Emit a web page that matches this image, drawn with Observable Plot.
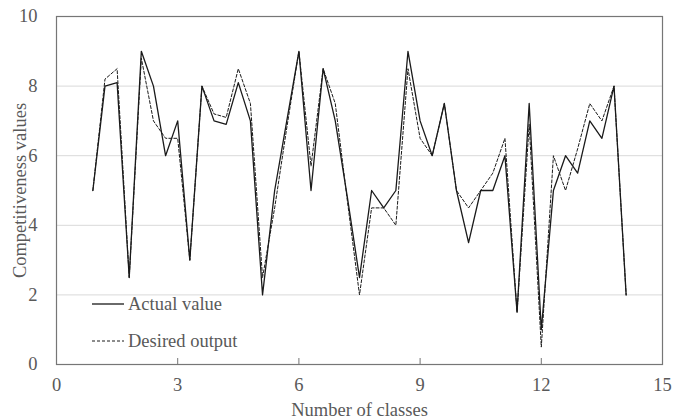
<!DOCTYPE html>
<html>
<head>
<meta charset="utf-8">
<script src="https://cdn.jsdelivr.net/npm/d3@7"></script>
<script src="https://cdn.jsdelivr.net/npm/@observablehq/plot@0.6"></script>
<style>
  html, body { margin: 0; padding: 0; background: #fff; }
  #chart svg { display: block; }
</style>
</head>
<body>
<div id="chart"></div>
<script>
// Number of classes (x) for each observation
const classes = [
  0.9, 1.2, 1.5, 1.8, 2.1, 2.4, 2.7, 3.0, 3.3, 3.6,
  3.9, 4.2, 4.5, 4.8, 5.1, 5.4, 5.7, 6.0, 6.3, 6.6,
  6.9, 7.2, 7.5, 7.8, 8.1, 8.4, 8.7, 9.0, 9.3, 9.6,
  9.9, 10.2, 10.5, 10.8, 11.1, 11.4, 11.7, 12.0, 12.3, 12.6,
  12.9, 13.2, 13.5, 13.8, 14.1
];

// Competitiveness values: actual
const actualValue = [
  5.0, 8.0, 8.1, 2.5, 9.0, 8.0, 6.0, 7.0, 3.0, 8.0,
  7.0, 6.9, 8.1, 7.0, 2.0, 5.0, 7.0, 9.0, 5.0, 8.5,
  7.0, 4.8, 2.5, 5.0, 4.5, 5.0, 9.0, 7.0, 6.0, 7.5,
  5.0, 3.5, 5.0, 5.0, 6.0, 1.5, 7.5, 1.0, 5.0, 6.0,
  5.5, 7.0, 6.5, 8.0, 2.0
];

// Competitiveness values: desired output
const desiredOutput = [
  5.0, 8.2, 8.5, 2.5, 8.8, 7.0, 6.5, 6.5, 3.0, 8.0,
  7.2, 7.1, 8.5, 7.5, 2.5, 4.5, 6.8, 9.0, 5.7, 8.5,
  7.5, 4.7, 2.0, 4.5, 4.5, 4.0, 8.5, 6.5, 6.0, 7.5,
  5.0, 4.5, 5.0, 5.5, 6.5, 1.5, 6.9, 0.5, 6.0, 5.0,
  6.2, 7.5, 7.0, 8.0, 2.0
];

const xTicks = [0, 3, 6, 9, 12, 15];
const yTicks = [0, 2, 4, 6, 8, 10];
const gridValues = [2, 4, 6, 8];
const seriesNames = ["Actual value", "Desired output"];
const xLabel = "Number of classes";
const yLabel = "Competitiveness values";

const actualRows = classes.map((x, i) => ({x, y: actualValue[i]}));
const desiredRows = classes.map((x, i) => ({x, y: desiredOutput[i]}));

const font = "'Liberation Serif', 'Times New Roman', serif";
const textColor = "#595959";
const fontSize = 18.5;

const chart = Plot.plot({
  width: 687,
  height: 420,
  marginLeft: 56,
  marginRight: 25,
  marginTop: 16,
  marginBottom: 56,
  style: {fontFamily: font, fontSize: `${fontSize}px`, color: textColor, background: "#fff"},
  x: {domain: [0, 15]},
  y: {domain: [0, 10]},
  marks: [
    Plot.gridY(gridValues, {stroke: "#d9d9d9", strokeOpacity: 1, strokeWidth: 1}),
    Plot.axisX(xTicks, {tickSize: 0, tickPadding: 13, label: null, fill: textColor, fontSize}),
    Plot.axisY(yTicks, {tickSize: 0, tickPadding: 19, label: null, fill: textColor, fontSize}),
    // inward tick marks along the bottom edge
    Plot.ruleX(xTicks, {y1: 0, y2: 0, insetTop: -6, stroke: "#767676", strokeWidth: 1}),
    Plot.line(actualRows, {x: "x", y: "y", stroke: "#1a1a1a", strokeWidth: 1.3}),
    Plot.line(desiredRows, {x: "x", y: "y", stroke: "#1a1a1a", strokeWidth: 1, strokeDasharray: "3,2"}),
    Plot.frame({stroke: "#767676", strokeWidth: 1.2}),
    Plot.text([xLabel], {frameAnchor: "bottom", dy: 46, lineAnchor: "middle", textAnchor: "middle", fill: textColor, fontSize}),
    Plot.text([yLabel], {frameAnchor: "left", dx: -36, rotate: -90, lineAnchor: "middle", textAnchor: "middle", fill: textColor, fontSize})
  ]
});

// Legend inside the lower-left corner of the plot area
const svg = d3.select(chart);
const legend = svg.append("g")
  .attr("font-family", font)
  .attr("font-size", fontSize)
  .attr("text-anchor", "start");
const legendItems = [
  {name: seriesNames[0], dash: null, width: 1.3, y: 304},
  {name: seriesNames[1], dash: "3,2", width: 1, y: 341}
];
for (const item of legendItems) {
  legend.append("line")
    .attr("x1", 92).attr("x2", 124)
    .attr("y1", item.y).attr("y2", item.y)
    .attr("stroke", "#1a1a1a")
    .attr("stroke-width", item.width)
    .attr("stroke-dasharray", item.dash);
  legend.append("text")
    .attr("x", 128).attr("y", item.y)
    .attr("dy", "0.35em")
    .attr("text-anchor", "start")
    .attr("fill", textColor)
    .text(item.name);
}

document.getElementById("chart").appendChild(chart);
</script>
</body>
</html>
